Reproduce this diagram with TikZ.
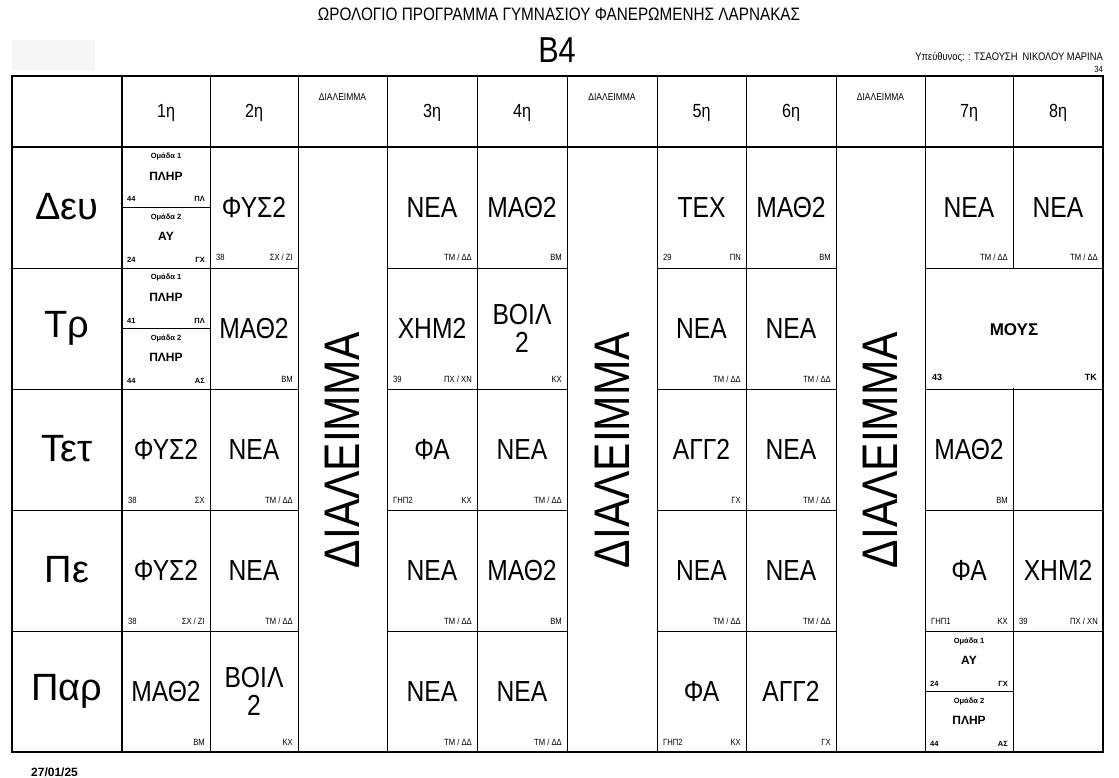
\documentclass[tikz,border=0pt]{standalone}
\usepackage{fontspec}
\setmainfont{Liberation Sans}
\newfontfamily\nar[FakeStretch=0.85]{Liberation Sans}
\def\xs{{12,122,210,298,387,477,567,657,746,836,925,1013,1103}}
\tikzset{
 subj/.style={font=\nar\fontsize{29}{28}\selectfont,align=center,inner sep=0pt},
 sm/.style={font=\nar\fontsize{9}{9}\selectfont,inner sep=0pt},
 gt/.style={font=\bfseries\fontsize{7.5}{8}\selectfont,inner sep=0pt},
 gs/.style={font=\bfseries\fontsize{12}{12}\selectfont,inner sep=0pt},
 gsm/.style={font=\bfseries\fontsize{7.5}{8}\selectfont,inner sep=0pt},
 thin/.style={line width=0.8pt},
 thick2/.style={line width=1.8pt}
}
\newcommand\Cell[5]{%
 \pgfmathsetmacro\xl{\xs[#1]}\pgfmathsetmacro\xr{\xs[#1+1]}%
 \pgfmathsetmacro\yt{147+121*(#2-1)}\pgfmathsetmacro\yb{\yt+121}%
 \node[subj] (s#1r#2) at ({(\xl+\xr)/2},{(\yt+\yb)/2}) {#3};
 \node[sm,anchor=base west] (l#1r#2) at ({\xl+6},{\yb-7}) {#4};
 \node[sm,anchor=base east] (q#1r#2) at ({\xr-5},{\yb-7}) {#5};}
\newcommand\Half[6]{%
 \node[gt] at ({(\xl+\xr)/2},{#2+10}) {Ομάδα #6};
 \node[gs] at ({(\xl+\xr)/2},{#2+29}) {#3};
 \node[gsm,anchor=base west] at ({\xl+5},{#2+55}) {#4};
 \node[gsm,anchor=base east] at ({\xr-5},{#2+55}) {#5};}
\newcommand\Grp[8]{%
 \pgfmathsetmacro\xl{\xs[#1]}\pgfmathsetmacro\xr{\xs[#1+1]}%
 \pgfmathsetmacro\yt{147+121*(#2-1)}%
 \draw[thin] ({\xl},{\yt+60.5}) -- ({\xr},{\yt+60.5});
 \Half{#1}{\yt}{#3}{#4}{#5}{1}
 \Half{#1}{\yt+60.5}{#6}{#7}{#8}{2}}
\begin{document}
\begin{tikzpicture}[x=1pt,y=-1pt]
\useasboundingbox (0,0) rectangle (1119,778);
\fill[white] (0,0) rectangle (1119,778);
\fill[gray!6] (12,40) rectangle (95,70);
\node[font=\nar\fontsize{18}{18}\selectfont] (title) at (559,14) {ΩΡΟΛΟΓΙΟ ΠΡΟΓΡΑΜΜΑ ΓΥΜΝΑΣΙΟΥ ΦΑΝΕΡΩΜΕΝΗΣ ΛΑΡΝΑΚΑΣ};
\node[font=\nar\fontsize{36}{36}\selectfont] (cls) at (557,50) {B4};
\node[font=\nar\fontsize{11}{11}\selectfont,anchor=base east,inner sep=0pt] (resp) at (1103,61) {Υπεύθυνος: : ΤΣΑΟΥΣΗ \ ΝΙΚΟΛΟΥ ΜΑΡΙΝΑ};
\node[font=\nar\fontsize{9}{9}\selectfont,anchor=base east,inner sep=0pt] (num) at (1103,73) {34};
\node[font=\bfseries\fontsize{12}{12}\selectfont,anchor=base west,inner sep=0pt] (date) at (31,776) {27/01/25};
% grid
\foreach \x in {210,387,477,657,746,925,1013} \draw[thin] (\x,76) -- (\x,752);
\foreach \x in {298,567,836} \draw[thin] (\x,76) -- (\x,752);
\foreach \y in {268,389,510,631} {
 \draw[thin] (12,\y) -- (298,\y);
 \draw[thin] (387,\y) -- (567,\y);
 \draw[thin] (657,\y) -- (836,\y);
 \draw[thin] (925,\y) -- (1103,\y);
}
\fill[white] (1012,269) rectangle (1014,388);
\draw[thick2] (122,76) -- (122,752);
\draw[thick2] (12,147) -- (1103,147);
\draw[thick2] (12,76) rectangle (1103,752);
% header
\foreach \c/\t in {1/1η,2/2η,4/3η,5/4η,7/5η,8/6η,10/7η,11/8η}{
 \pgfmathsetmacro\xl{\xs[\c]}\pgfmathsetmacro\xr{\xs[\c+1]}
 \pgfmathsetmacro\xc{(\xl+\xr)/2}
 \node[font=\nar\fontsize{19}{19}\selectfont] (h\c) at (\xc,113) {\t};}
\foreach \c in {3,6,9}{
 \pgfmathsetmacro\xl{\xs[\c]}\pgfmathsetmacro\xr{\xs[\c+1]}
 \pgfmathsetmacro\xc{(\xl+\xr)/2}
 \node[font=\nar\fontsize{10}{10}\selectfont] (hb\c) at (\xc,97) {ΔΙΑΛΕΙΜΜΑ};
 \node[font=\nar\fontsize{50}{50}\selectfont,rotate=90] (b\c) at (\xc,450) {ΔΙΑΛΕΙΜΜΑ};}
% days
\foreach \r/\d in {1/Δευ,2/Τρ,3/Τετ,4/Πε,5/Παρ}{
 \pgfmathsetmacro\yd{147+121*(\r-1)+60}
 \node[font=\fontsize{38}{38}\selectfont] (d\r) at (67,\yd) {\d};}
% row 1
\Grp{1}{1}{ΠΛΗΡ}{44}{ΠΛ}{ΑΥ}{24}{ΓΧ}
\Cell{2}{1}{ΦΥΣ2}{38}{ΣΧ / ΖΙ}
\Cell{4}{1}{ΝΕΑ}{}{ΤΜ / ΔΔ}
\Cell{5}{1}{ΜΑΘ2}{}{ΒΜ}
\Cell{7}{1}{ΤΕΧ}{29}{ΠΝ}
\Cell{8}{1}{ΜΑΘ2}{}{ΒΜ}
\Cell{10}{1}{ΝΕΑ}{}{ΤΜ / ΔΔ}
\Cell{11}{1}{ΝΕΑ}{}{ΤΜ / ΔΔ}
% row 2
\Grp{1}{2}{ΠΛΗΡ}{41}{ΠΛ}{ΠΛΗΡ}{44}{ΑΣ}
\Cell{2}{2}{ΜΑΘ2}{}{ΒΜ}
\Cell{4}{2}{ΧΗΜ2}{39}{ΠΧ / ΧΝ}
\Cell{5}{2}{ΒΟΙΛ\\2}{}{ΚΧ}
\Cell{7}{2}{ΝΕΑ}{}{ΤΜ / ΔΔ}
\Cell{8}{2}{ΝΕΑ}{}{ΤΜ / ΔΔ}
\node[font=\bfseries\fontsize{17}{17}\selectfont] (mous) at (1014,330) {ΜΟΥΣ};
\node[inner sep=0pt,anchor=base west,font=\bfseries\fontsize{9}{9}\selectfont] (mousl) at (932,380) {43};
\node[inner sep=0pt,anchor=base east,font=\bfseries\fontsize{9}{9}\selectfont] (mousr) at (1097,380) {ΤΚ};
% row 3
\Cell{1}{3}{ΦΥΣ2}{38}{ΣΧ}
\Cell{2}{3}{ΝΕΑ}{}{ΤΜ / ΔΔ}
\Cell{4}{3}{ΦΑ}{ΓΗΠ2}{ΚΧ}
\Cell{5}{3}{ΝΕΑ}{}{ΤΜ / ΔΔ}
\Cell{7}{3}{ΑΓΓ2}{}{ΓΧ}
\Cell{8}{3}{ΝΕΑ}{}{ΤΜ / ΔΔ}
\Cell{10}{3}{ΜΑΘ2}{}{ΒΜ}
% row 4
\Cell{1}{4}{ΦΥΣ2}{38}{ΣΧ / ΖΙ}
\Cell{2}{4}{ΝΕΑ}{}{ΤΜ / ΔΔ}
\Cell{4}{4}{ΝΕΑ}{}{ΤΜ / ΔΔ}
\Cell{5}{4}{ΜΑΘ2}{}{ΒΜ}
\Cell{7}{4}{ΝΕΑ}{}{ΤΜ / ΔΔ}
\Cell{8}{4}{ΝΕΑ}{}{ΤΜ / ΔΔ}
\Cell{10}{4}{ΦΑ}{ΓΗΠ1}{ΚΧ}
\Cell{11}{4}{ΧΗΜ2}{39}{ΠΧ / ΧΝ}
% row 5
\Cell{1}{5}{ΜΑΘ2}{}{ΒΜ}
\Cell{2}{5}{ΒΟΙΛ\\2}{}{ΚΧ}
\Cell{4}{5}{ΝΕΑ}{}{ΤΜ / ΔΔ}
\Cell{5}{5}{ΝΕΑ}{}{ΤΜ / ΔΔ}
\Cell{7}{5}{ΦΑ}{ΓΗΠ2}{ΚΧ}
\Cell{8}{5}{ΑΓΓ2}{}{ΓΧ}
\Grp{10}{5}{ΑΥ}{24}{ΓΧ}{ΠΛΗΡ}{44}{ΑΣ}
\end{tikzpicture}
\end{document}
